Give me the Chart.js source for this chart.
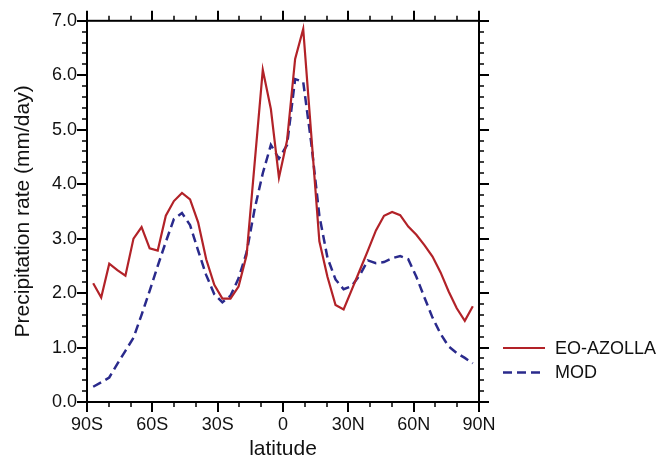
<!DOCTYPE html>
<html><head><meta charset="utf-8">
<script src="https://cdn.jsdelivr.net/npm/chart.js@4.4.1/dist/chart.umd.min.js"></script>
<style>html,body{margin:0;padding:0;background:#fff;}#wrap{width:671px;height:464px;}</style>
</head><body><div id="wrap"><canvas id="c" width="671" height="464"></canvas></div>
<script>
// Gaussian-grid latitudes (degrees, negative = south)
const latitudes = [-87.16,-83.48,-79.78,-76.07,-72.36,-68.65,-64.94,-61.23,-57.52,-53.81,-50.10,-46.39,-42.68,-38.97,-35.26,-31.55,-27.83,-24.12,-20.41,-16.70,-12.99,-9.28,-5.57,-1.86,
  1.86,5.57,9.28,12.99,16.70,20.41,24.12,27.83,31.55,35.26,38.97,42.68,46.39,50.10,53.81,57.52,61.23,64.94,68.65,72.36,76.07,79.78,83.48,87.16];
const eoAzolla = [2.18,1.92,2.54,2.42,2.32,3.00,3.21,2.82,2.78,3.42,3.69,3.84,3.72,3.30,2.62,2.15,1.90,1.90,2.12,2.70,4.40,6.10,5.38,4.12,
  4.80,6.30,6.85,4.90,2.95,2.30,1.78,1.70,2.06,2.42,2.78,3.15,3.42,3.49,3.43,3.22,3.07,2.88,2.67,2.38,2.03,1.72,1.49,1.76];
const mod = [0.28,0.36,0.45,0.70,0.94,1.18,1.60,2.04,2.50,2.94,3.36,3.47,3.25,2.78,2.33,1.98,1.83,1.95,2.27,2.75,3.55,4.20,4.72,4.47,
  4.72,5.93,5.88,4.75,3.42,2.65,2.25,2.07,2.13,2.33,2.60,2.55,2.57,2.64,2.68,2.62,2.30,1.92,1.55,1.25,1.02,0.90,0.81,0.71];
const seriesNames = ['EO-AZOLLA','MOD'];
const xTickValues = [-90,-60,-30,0,30,60,90];
const xTickLabels = ['90S','60S','30S','0','30N','60N','90N'];
const yTickValues = [0,1,2,3,4,5,6,7];
const yTickLabels = ['0.0','1.0','2.0','3.0','4.0','5.0','6.0','7.0'];

const FONT = "'Liberation Sans', Arial, Helvetica, sans-serif";
const RED = 'rgb(178,34,40)';
const BLUE = 'rgb(42,42,140)';

const framePlugin = {
  id: 'frameTicks',
  afterDatasetsDraw(chart) {
    const ctx = chart.ctx, a = chart.chartArea;
    const xs = chart.scales.x, ys = chart.scales.y;
    ctx.save();
    ctx.strokeStyle = '#000';
    ctx.lineCap = 'butt';
    // x ticks
    for (let v = -90; v <= 90; v += 10) {
      const px = Math.round(xs.getPixelForValue(v));
      const major = v % 30 === 0;
      const len = major ? 10 : 5;
      ctx.lineWidth = major ? 2 : 1.5;
      ctx.beginPath();
      ctx.moveTo(px, a.bottom); ctx.lineTo(px, a.bottom + len);
      ctx.moveTo(px, a.top); ctx.lineTo(px, a.top - len);
      ctx.stroke();
    }
    for (let i = 0; i <= 35; i++) {
      const v = i * 0.2;
      const py = Math.round(ys.getPixelForValue(v));
      const major = i % 5 === 0;
      const len = major ? 10 : 5;
      ctx.lineWidth = major ? 2 : 1.5;
      ctx.beginPath();
      ctx.moveTo(a.left, py); ctx.lineTo(a.left - len, py);
      ctx.moveTo(a.right, py); ctx.lineTo(a.right + len, py);
      ctx.stroke();
    }
    ctx.lineWidth = 2;
    ctx.strokeRect(a.left, a.top, a.right - a.left, a.bottom - a.top);
    ctx.restore();
  },
  afterDraw(chart) {
    const ctx = chart.ctx;
    const items = chart.data.datasets;
    const x0 = 503, x1 = 545, tx = 555, y0 = 348, dy = 24.5;
    ctx.save();
    items.forEach((ds, i) => {
      const y = y0 + i * dy;
      ctx.strokeStyle = ds.borderColor;
      ctx.lineWidth = ds.borderWidth;
      ctx.setLineDash(ds.borderDash || []);
      ctx.beginPath(); ctx.moveTo(x0, y); ctx.lineTo(x1, y); ctx.stroke();
      ctx.setLineDash([]);
      ctx.fillStyle = '#111';
      ctx.font = '18px ' + FONT;
      ctx.textBaseline = 'middle';
      ctx.textAlign = 'left';
      ctx.fillText(ds.label, tx, y + 1);
    });
    ctx.restore();
  }
};

new Chart(document.getElementById('c'), {
  type: 'line',
  data: {
    datasets: [
      { label: seriesNames[0], data: latitudes.map((lat, i) => ({x: lat, y: eoAzolla[i]})),
        borderColor: RED, borderWidth: 2.2, pointRadius: 0, tension: 0, fill: false },
      { label: seriesNames[1], data: latitudes.map((lat, i) => ({x: lat, y: mod[i]})),
        borderColor: BLUE, borderWidth: 2.5, borderDash: [9, 5], pointRadius: 0, tension: 0, fill: false }
    ]
  },
  options: {
    responsive: false,
    animation: false,
    devicePixelRatio: 1,
    layout: { padding: { left: 0, right: 192, top: 16, bottom: 0 } },
    plugins: { legend: { display: false }, tooltip: { enabled: false } },
    scales: {
      x: {
        type: 'linear', min: -90, max: 90,
        grid: { display: false, drawTicks: false }, border: { display: false },
        afterBuildTicks: s => { s.ticks = xTickValues.map(v => ({ value: v })); },
        afterFit: s => { s.height = 62; },
        ticks: { autoSkip: false, maxRotation: 0, padding: 12, color: '#111',
          font: { family: FONT, size: 18 },
          callback: v => xTickLabels[xTickValues.indexOf(v)] },
        title: { display: true, text: 'latitude', color: '#111',
          font: { family: FONT, size: 21 }, padding: { top: 0, bottom: 2 } }
      },
      y: {
        min: 0, max: 7,
        grid: { display: false, drawTicks: false }, border: { display: false },
        afterBuildTicks: s => { s.ticks = yTickValues.map(v => ({ value: v })); },
        afterFit: s => { s.width = 87; },
        ticks: { autoSkip: false, padding: 10, color: '#111',
          font: { family: FONT, size: 18 },
          callback: v => yTickLabels[yTickValues.indexOf(v)] },
        title: { display: true, text: 'Precipitation rate (mm/day)', color: '#111',
          font: { family: FONT, size: 21 }, padding: { top: 11, bottom: 0 } }
      }
    }
  },
  plugins: [framePlugin]
});
</script>
</body></html>
